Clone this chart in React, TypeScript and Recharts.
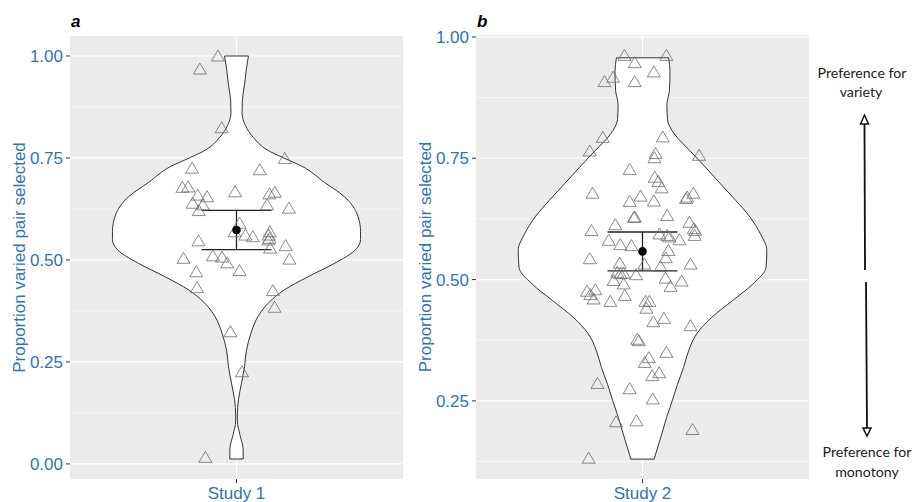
import React from 'react';
import {
  Area,
  CartesianGrid,
  ComposedChart,
  ErrorBar,
  ReferenceLine,
  Scatter,
  XAxis,
  YAxis,
} from 'recharts';

const BLUE = '#2E75B6';
const FONT = '"Liberation Sans", Arial, sans-serif';

// Study 1 violin outline: proportion and half width (category units)
const study1ViolinY = [0.012, 0.035, 0.07, 0.105, 0.12, 0.157, 0.198, 0.239, 0.279, 0.32, 0.361, 0.394, 0.426, 0.459, 0.492, 0.525, 0.55, 0.57, 0.61, 0.655, 0.69, 0.73, 0.75, 0.77, 0.8, 0.83, 0.86, 0.89, 0.93, 0.97, 1.0];
const study1ViolinHalf = [0.024, 0.024, 0.013, 0.003, 0.003, 0.007, 0.018, 0.029, 0.036, 0.052, 0.077, 0.114, 0.171, 0.258, 0.354, 0.429, 0.447, 0.447, 0.436, 0.389, 0.317, 0.235, 0.17, 0.11, 0.061, 0.032, 0.02, 0.021, 0.029, 0.036, 0.043];

// Study 1 individual participants
const study1PointsY = [1.0, 0.968, 0.824, 0.749, 0.725, 0.721, 0.678, 0.679, 0.667, 0.659, 0.655, 0.662, 0.666, 0.639, 0.635, 0.621, 0.635, 0.627, 0.59, 0.569, 0.561, 0.557, 0.547, 0.569, 0.561, 0.553, 0.549, 0.529, 0.535, 0.504, 0.51, 0.507, 0.493, 0.474, 0.471, 0.502, 0.432, 0.425, 0.384, 0.324, 0.226, 0.016];
const study1PointsJitter = [-0.067, -0.132, -0.053, 0.174, -0.16, 0.084, -0.195, -0.174, -0.005, -0.14, -0.106, 0.119, 0.138, -0.158, -0.121, -0.136, 0.11, 0.189, 0.011, -0.007, 0.032, 0.059, -0.137, 0.12, 0.116, 0.119, 0.114, 0.121, 0.177, -0.191, -0.085, -0.052, -0.034, 0.011, -0.145, 0.191, -0.142, 0.131, 0.137, -0.022, 0.02, -0.112];
const study1Mean = 0.5735;
const study1Se = 0.048;

// Study 2 violin outline
const study2ViolinY = [0.13, 0.147, 0.181, 0.216, 0.25, 0.284, 0.319, 0.353, 0.388, 0.422, 0.457, 0.491, 0.525, 0.56, 0.594, 0.629, 0.663, 0.698, 0.732, 0.766, 0.8, 0.83, 0.86, 0.89, 0.93, 0.957];
const study2ViolinHalf = [0.042, 0.051, 0.069, 0.087, 0.107, 0.126, 0.148, 0.166, 0.195, 0.249, 0.325, 0.398, 0.445, 0.448, 0.425, 0.387, 0.336, 0.28, 0.226, 0.17, 0.115, 0.09, 0.088, 0.097, 0.099, 0.094];

// Study 2 individual participants
const study2PointsY = [0.962, 0.962, 0.947, 0.928, 0.917, 0.908, 0.908, 0.793, 0.794, 0.765, 0.76, 0.751, 0.756, 0.727, 0.711, 0.702, 0.689, 0.678, 0.672, 0.661, 0.662, 0.67, 0.678, 0.667, 0.629, 0.628, 0.632, 0.613, 0.601, 0.618, 0.605, 0.601, 0.591, 0.594, 0.591, 0.588, 0.582, 0.581, 0.572, 0.57, 0.56, 0.543, 0.534, 0.532, 0.545, 0.527, 0.532, 0.515, 0.512, 0.513, 0.51, 0.498, 0.491, 0.503, 0.486, 0.497, 0.476, 0.469, 0.46, 0.479, 0.455, 0.467, 0.455, 0.455, 0.441, 0.413, 0.42, 0.405, 0.377, 0.374, 0.339, 0.329, 0.35, 0.302, 0.308, 0.286, 0.275, 0.254, 0.207, 0.209, 0.191, 0.132];
const study2PointsJitter = [-0.065, 0.086, -0.028, 0.041, -0.106, -0.137, -0.028, -0.143, 0.073, -0.19, 0.047, 0.043, 0.204, -0.046, 0.044, 0.057, 0.069, -0.18, -0.007, -0.046, 0.041, 0.161, 0.183, 0.157, -0.028, -0.031, 0.089, -0.098, -0.184, 0.169, 0.185, 0.19, 0.188, 0.061, 0.089, 0.097, 0.133, -0.122, -0.08, -0.04, 0.093, -0.19, -0.082, 0.007, 0.084, 0.065, 0.173, -0.091, -0.08, -0.068, -0.023, -0.104, -0.068, 0.083, 0.101, 0.141, -0.2, -0.188, -0.176, -0.17, -0.116, -0.064, 0.011, 0.025, 0.014, 0.039, 0.077, 0.173, -0.019, -0.013, 0.023, 0.008, 0.086, 0.035, 0.06, -0.162, -0.046, 0.037, -0.095, -0.022, 0.18, -0.194];
const study2Mean = 0.558;
const study2Se = 0.04;

const study1TicksY = [0, 0.25, 0.5, 0.75, 1];
const study2TicksY = [0.25, 0.5, 0.75, 1];
const minorTicksY = [0.125, 0.375, 0.625, 0.875];

const Triangle = (props: any) => {
  const { cx, cy } = props;
  if (cx == null || cy == null) return null;
  return (
    <polygon
      points={`${cx},${cy - 6} ${cx - 6.5},${cy + 5} ${cx + 6.5},${cy + 5}`}
      fill="none"
      stroke="#6e6e6e"
      strokeOpacity={0.8}
      strokeWidth={1}
    />
  );
};

const MeanDot = (props: any) => {
  const { cx, cy } = props;
  if (cx == null || cy == null) return null;
  return <circle cx={cx} cy={cy} r={4.3} fill="#000" />;
};

interface ViolinPanelProps {
  study: string;
  violinY: number[];
  violinHalf: number[];
  pointsY: number[];
  pointsJitter: number[];
  mean: number;
  se: number;
  domain: [number, number];
  ticks: number[];
  top: number;
  axisWidth: number;
}

function ViolinPanel(props: ViolinPanelProps) {
  const { study, violinY, violinHalf, pointsY, pointsJitter, mean, se, domain, ticks, top, axisWidth } = props;
  const violin = violinY.map((v, i) => ({ v, range: [-violinHalf[i], violinHalf[i]] }));
  const points = pointsY.map((v, i) => ({ v, j: pointsJitter[i] }));
  const meanData = [{ v: mean, j: 0, err: se }];
  const last = violinY.length - 1;

  return (
    <ComposedChart
      width={axisWidth + 340}
      height={502}
      layout="vertical"
      data={violin}
      margin={{ top, right: 7, bottom: 0, left: 0 }}
    >
      <CartesianGrid
        fill="#EBEBEB"
        stroke="#fff"
        strokeWidth={0.6}
        horizontalValues={minorTicksY}
        verticalValues={[]}
        vertical={false}
      />
      <CartesianGrid
        stroke="#fff"
        strokeWidth={1.2}
        horizontalValues={ticks}
        verticalValues={[0]}
      />
      <XAxis
        type="number"
        domain={[-0.6, 0.6]}
        allowDataOverflow
        ticks={[0]}
        tickFormatter={() => study}
        axisLine={false}
        tickLine={{ stroke: '#333' }}
        tickSize={4}
        tickMargin={4}
        height={23}
        tick={{ fill: BLUE, fontSize: 17 }}
      />
      <YAxis
        type="number"
        dataKey="v"
        domain={domain}
        reversed
        allowDataOverflow
        ticks={ticks}
        tickFormatter={(t: number) => t.toFixed(2)}
        axisLine={false}
        tickLine={{ stroke: '#333' }}
        tickSize={4}
        tickMargin={3}
        width={axisWidth}
        tick={{ fill: BLUE, fontSize: 17 }}
        label={{
          value: 'Proportion varied pair selected',
          angle: -90,
          position: 'insideLeft',
          offset: axisWidth - 51,
          style: { textAnchor: 'middle', fill: BLUE, fontSize: 17 },
        }}
      />
      <Area
        dataKey="range"
        type="monotone"
        fill="#fff"
        fillOpacity={1}
        stroke="#333"
        strokeWidth={1}
        isAnimationActive={false}
      />
      <ReferenceLine
        segment={[
          { x: -violinHalf[last], y: violinY[last] },
          { x: violinHalf[last], y: violinY[last] },
        ]}
        stroke="#333"
        strokeWidth={1}
      />
      <ReferenceLine
        segment={[
          { x: -violinHalf[0], y: violinY[0] },
          { x: violinHalf[0], y: violinY[0] },
        ]}
        stroke="#333"
        strokeWidth={1}
      />
      <Scatter data={points} dataKey="j" shape={Triangle} isAnimationActive={false} />
      <Scatter data={meanData} dataKey="j" shape={MeanDot} isAnimationActive={false}>
        <ErrorBar dataKey="err" direction="y" width={35} stroke="#222" strokeWidth={1.3} isAnimationActive={false} />
      </Scatter>
    </ComposedChart>
  );
}

export default function App() {
  return (
    <div
      style={{
        position: 'absolute',
        left: 0,
        top: 0,
        width: 914,
        height: 502,
        background: '#fff',
        fontFamily: FONT,
        overflow: 'hidden',
      }}
    >
      <div style={{ position: 'absolute', left: 0, top: 0 }}>
        <ViolinPanel
          study="Study 1"
          violinY={study1ViolinY}
          violinHalf={study1ViolinHalf}
          pointsY={study1PointsY}
          pointsJitter={study1PointsJitter}
          mean={study1Mean}
          se={study1Se}
          domain={[-0.037, 1.049]}
          ticks={study1TicksY}
          top={36}
          axisWidth={70}
        />
      </div>
      <div style={{ position: 'absolute', left: 405, top: 0 }}>
        <ViolinPanel
          study="Study 2"
          violinY={study2ViolinY}
          violinHalf={study2ViolinHalf}
          pointsY={study2PointsY}
          pointsJitter={study2PointsJitter}
          mean={study2Mean}
          se={study2Se}
          domain={[0.089, 1.004]}
          ticks={study2TicksY}
          top={35}
          axisWidth={71}
        />
      </div>
      <svg
        width={914}
        height={502}
        style={{ position: 'absolute', left: 0, top: 0, pointerEvents: 'none' }}
      >
        <text x={71} y={27} fontSize={17} fontWeight="bold" fontStyle="italic" fill="#000">a</text>
        <text x={477} y={27} fontSize={17} fontWeight="bold" fontStyle="italic" fill="#000">b</text>
        <g fontFamily="Lato, 'Open Sans', sans-serif" fontSize={14.2} fill="#222" textAnchor="middle">
          <text x={862} y={78}>Preference for</text>
          <text x={861} y={97}>variety</text>
          <text x={867} y={457}>Preference for</text>
          <text x={867} y={477}>monotony</text>
        </g>
        <line x1={865} y1={270} x2={864.5} y2={124} stroke="#111" strokeWidth={1.8} />
        <polygon points="864.5,115 860.5,124 868.5,124" fill="#fff" stroke="#111" strokeWidth={1.5} />
        <line x1={866} y1={282} x2={867} y2={428} stroke="#111" strokeWidth={1.8} />
        <polygon points="863,428 871,428 867,436" fill="#fff" stroke="#111" strokeWidth={1.5} />
      </svg>
    </div>
  );
}
